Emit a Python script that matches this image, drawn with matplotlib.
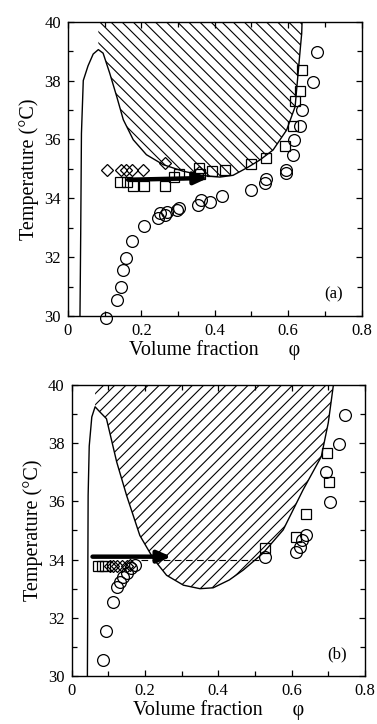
import matplotlib
matplotlib.use("Agg")
import matplotlib.pyplot as plt
from matplotlib.ticker import MultipleLocator

plt.rcParams['font.family'] = ['Liberation Serif', 'DejaVu Serif']
plt.rcParams['hatch.linewidth'] = 0.8
plt.rcParams['hatch.color'] = 'black'

# ---- panel (a) data ----
curve_a_x = [0.033, 0.035, 0.037, 0.042, 0.055, 0.069, 0.083, 0.096, 0.114, 0.133, 0.151, 0.178,
             0.214, 0.260, 0.314, 0.369, 0.414, 0.450, 0.490, 0.523, 0.559, 0.596, 0.619, 0.628,
             0.634, 0.637, 0.638]
curve_a_t = [30.0, 32.8, 36.2, 38.0, 38.5, 38.9, 39.05, 38.93, 38.25, 37.46, 36.67, 35.99,
             35.48, 35.14, 34.92, 34.77, 34.72, 34.78, 35.05, 35.3, 35.64, 36.32, 37.11, 38.36,
             39.2, 39.6, 40.0]
peak_a = 6

circ_a_x = [0.105, 0.135, 0.144, 0.149, 0.158, 0.176, 0.207, 0.246, 0.251, 0.264, 0.269, 0.296,
            0.303, 0.355, 0.364, 0.387, 0.421, 0.498, 0.538, 0.540, 0.594, 0.594, 0.612, 0.616,
            0.631, 0.637, 0.668, 0.680]
circ_a_t = [29.94, 30.56, 30.99, 31.58, 31.98, 32.55, 33.05, 33.32, 33.49, 33.43, 33.54, 33.6,
            33.66, 33.77, 33.94, 33.88, 34.08, 34.28, 34.51, 34.66, 34.96, 34.85, 35.47, 35.98,
            36.47, 37.0, 37.96, 38.96]

sq_a_x = [0.142, 0.160, 0.178, 0.207, 0.264, 0.289, 0.303, 0.358, 0.360, 0.392, 0.428, 0.500,
          0.541, 0.591, 0.612, 0.619, 0.631, 0.637]
sq_a_t = [34.56, 34.56, 34.42, 34.42, 34.42, 34.71, 34.83, 35.02, 34.84, 34.94, 34.96, 35.16,
          35.36, 35.78, 36.47, 37.32, 37.66, 38.36]

dia_a_x = [0.107, 0.144, 0.158, 0.174, 0.204, 0.264, 0.358]
dia_a_t = [34.96, 34.96, 34.96, 34.96, 34.96, 35.19, 34.9]

arrow_a = [(0.164, 34.63), (0.382, 34.69)]

# ---- panel (b) data ----
curve_b_x = [0.043, 0.044, 0.045, 0.048, 0.055, 0.064, 0.075, 0.095, 0.123, 0.150, 0.186, 0.223,
             0.259, 0.305, 0.350, 0.386, 0.430, 0.468, 0.522, 0.577, 0.631, 0.681, 0.700, 0.714]
curve_b_t = [30.0, 33.0, 36.2, 37.9, 38.9, 39.25, 39.1, 38.84, 37.35, 36.2, 34.83, 34.03,
             33.46, 33.12, 33.0, 33.03, 33.3, 33.64, 34.22, 35.02, 36.39, 37.54, 38.7, 40.0]
peak_b = 5

circ_b_x = [0.086, 0.095, 0.112, 0.123, 0.132, 0.141, 0.150, 0.163, 0.172, 0.527, 0.613, 0.622,
            0.627, 0.640, 0.695, 0.704, 0.729, 0.745]
circ_b_t = [30.54, 31.54, 32.55, 33.07, 33.24, 33.41, 33.55, 33.7, 33.8, 34.1, 34.27, 34.44,
            34.67, 34.85, 37.02, 35.99, 37.97, 38.98]

sq_b_x = [0.072, 0.082, 0.092, 0.527, 0.613, 0.640, 0.696, 0.702]
sq_b_t = [33.77, 33.77, 33.77, 34.39, 34.77, 35.57, 37.67, 36.68]

dia_b_x = [0.104, 0.114, 0.124, 0.138, 0.152, 0.160]
dia_b_t = [33.77, 33.77, 33.77, 33.77, 33.77, 33.8]

arrow_b = [(0.057, 34.1), (0.272, 34.1)]
dash_b_x = [0.19, 0.522]
dash_b_t = [34.0, 34.0]

fig = plt.figure(figsize=(3.77, 7.24), dpi=100)
ax_a = fig.add_axes([0.180, 0.5635, 0.779, 0.4066])
ax_b = fig.add_axes([0.190, 0.0663, 0.778, 0.4020])


def style(ax, tag):
    ax.set_xlim(0, 0.8)
    ax.set_ylim(30, 40)
    ax.xaxis.set_major_locator(MultipleLocator(0.2))
    ax.xaxis.set_minor_locator(MultipleLocator(0.1))
    ax.yaxis.set_major_locator(MultipleLocator(2))
    ax.yaxis.set_minor_locator(MultipleLocator(1))
    ax.xaxis.set_major_formatter(plt.FuncFormatter(lambda v, p: '0' if abs(v) < 1e-9 else f'{v:.1f}'))
    ax.tick_params(which='both', direction='in', top=True, right=True, labelsize=12, width=0.9)
    ax.tick_params(which='major', length=4.5, pad=5)
    ax.tick_params(which='minor', length=3.5)
    for s in ax.spines.values():
        s.set_linewidth(1.0)
    ax.set_xlabel('Volume fraction      \u03c6', fontsize=14.5, labelpad=1)
    ax.set_ylabel('Temperature (\u00b0C)', fontsize=14.5, labelpad=4)
    ax.text(0.725, 30.75, tag, fontsize=12, ha='center', va='center')


def markers(ax, cx, ct, sx, st, dx, dt):
    ax.plot(cx, ct, 'o', ms=8.5, mfc='none', mec='black', mew=0.9, zorder=4, clip_on=False)
    ax.plot(sx, st, 's', ms=7.5, mfc='none', mec='black', mew=0.9, zorder=4, clip_on=False)
    ax.plot(dx, dt, 'D', ms=6.5, mfc='none', mec='black', mew=0.9, zorder=4, clip_on=False)


def arrow(ax, pts):
    ax.annotate('', xy=pts[1], xytext=pts[0],
                arrowprops=dict(arrowstyle='-|>,head_length=0.8,head_width=0.35',
                                lw=3.2, color='black', shrinkA=0, shrinkB=0), zorder=5)


# panel (a)
ax_a.fill_between(curve_a_x[peak_a:], curve_a_t[peak_a:], 40, facecolor='none',
                  edgecolor='black', hatch='\\' * 3, linewidth=0, zorder=1)
ax_a.plot(curve_a_x, curve_a_t, color='black', lw=1.0, zorder=2)
markers(ax_a, circ_a_x, circ_a_t, sq_a_x, sq_a_t, dia_a_x, dia_a_t)
arrow(ax_a, arrow_a)
style(ax_a, '(a)')

# panel (b)
ax_b.fill_between(curve_b_x[peak_b:], curve_b_t[peak_b:], 40, facecolor='none',
                  edgecolor='black', hatch='/' * 3, linewidth=0, zorder=1)
ax_b.plot(curve_b_x, curve_b_t, color='black', lw=1.0, zorder=2)
ax_b.plot(dash_b_x, dash_b_t, color='black', lw=0.8, ls=(0, (6, 4)), zorder=2)
markers(ax_b, circ_b_x, circ_b_t, sq_b_x, sq_b_t, dia_b_x, dia_b_t)
arrow(ax_b, arrow_b)
style(ax_b, '(b)')

fig.savefig('out.png', dpi=100)
